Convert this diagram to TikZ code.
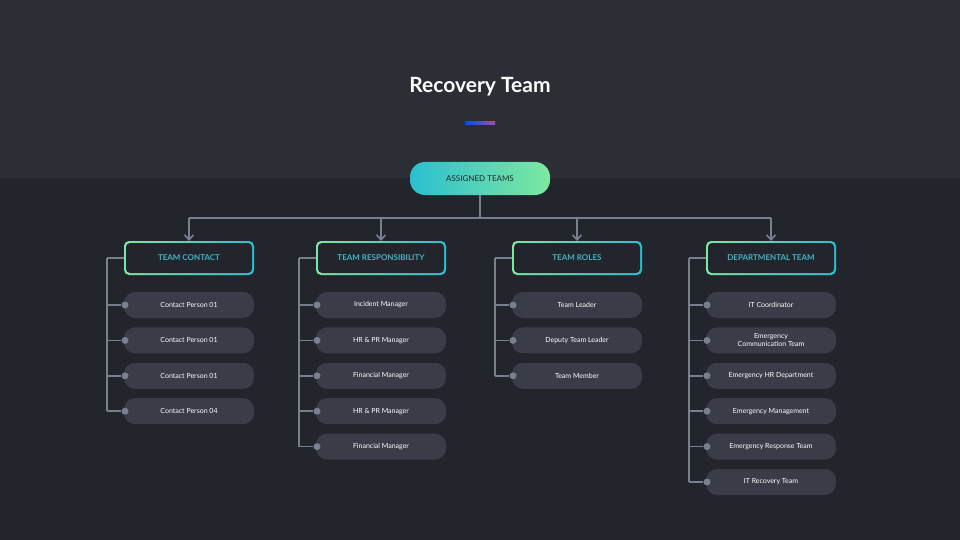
\documentclass[tikz,border=0pt]{standalone}
\usepackage{fontspec}
\setmainfont{Lato}
\usetikzlibrary{arrows.meta}
\definecolor{topbg}{HTML}{2C2E36}
\definecolor{botbg}{HTML}{22252B}
\definecolor{pillc}{HTML}{3A3C48}
\definecolor{linec}{HTML}{7A7F8E}
\definecolor{tealc}{HTML}{2BBFD0}
\definecolor{greenc}{HTML}{7DE8A0}
\definecolor{headt}{HTML}{3BB8C4}
\tikzset{
  itempill/.style={fill=pillc, rounded corners=11pt, minimum width=130pt, minimum height=26pt, text=white, font=\fontsize{7}{8}\selectfont, align=center, inner sep=0pt},
  conn/.style={draw=linec, line width=1.6pt},
  dotc/.style={fill=linec, circle, inner sep=0pt, minimum size=7pt},
  hdtext/.style={text=headt, font=\bfseries\fontsize{8}{9}\selectfont}
}
\begin{document}
\begin{tikzpicture}[x=1pt,y=-1pt]
\useasboundingbox (0,0) rectangle (960,540);
\fill[botbg] (0,0) rectangle (960,540);
\fill[topbg] (0,0) rectangle (960,178);
\node[text=white, font=\bfseries\fontsize{21}{24}\selectfont] (title) at (480,87) {Recovery Team};
\shade[left color=blue!70!cyan, right color=violet!70] (465,122) rectangle (495,124.5);
\shade[left color=tealc, right color=greenc, rounded corners=15pt] (410,162) rectangle (550,195);
\node[text=topbg!80!black, font=\fontsize{8}{9}\selectfont] (assigned) at (480,179) {ASSIGNED TEAMS};
\coordinate (bus) at (480,218);
\draw[conn] (480,195) -- (bus);
\draw[conn] (189,218) -- (771,218);
\foreach \x/\name/\txt in {189/h1/TEAM CONTACT,381/h2/TEAM RESPONSIBILITY,577/h3/TEAM ROLES,771/h4/DEPARTMENTAL TEAM}{
  \shade[left color=greenc, right color=tealc, rounded corners=5pt] (\x-65,241) rectangle (\x+65,275);
  \fill[botbg, rounded corners=4pt] (\x-63,243) rectangle (\x+63,273);
  \node[hdtext] (\name) at (\x,258) {\txt};
  \coordinate (\name top) at (\x,218);
  \draw[conn, -{Straight Barb[length=5pt,width=9pt]}] (\name top) -- (\x,241);
}
\foreach \col/\x/\list in {
  1/189/{Contact Person 01,Contact Person 01,Contact Person 01,Contact Person 04},
  2/381/{Incident Manager,HR \& PR Manager,Financial Manager,HR \& PR Manager,Financial Manager},
  3/577/{Team Leader,Deputy Team Leader,Team Member},
  4/771/{IT Coordinator,Emergency\\Communication Team,Emergency HR Department,Emergency Management,Emergency Response Team,IT Recovery Team}}{
  \coordinate (c\col a) at (\x-82,258);
  \draw[conn] (\x-65,258) -- (c\col a);
  \foreach \t [count=\i] in \list {
    \pgfmathsetmacro{\yy}{305+(\i-1)*35.4}
    \node[itempill] (c\col i\i) at (\x,\yy) {\t};
    \coordinate (c\col b\i) at (\x-82,\yy);
    \node[dotc] (c\col d\i) at (\x-64,\yy) {};
    \draw[conn] (c\col b\i) -- (c\col d\i);
    \xdef\last{\yy}
  }
  \draw[conn] (c\col a) -- (\x-82,\last);
}
\end{tikzpicture}
\end{document}
